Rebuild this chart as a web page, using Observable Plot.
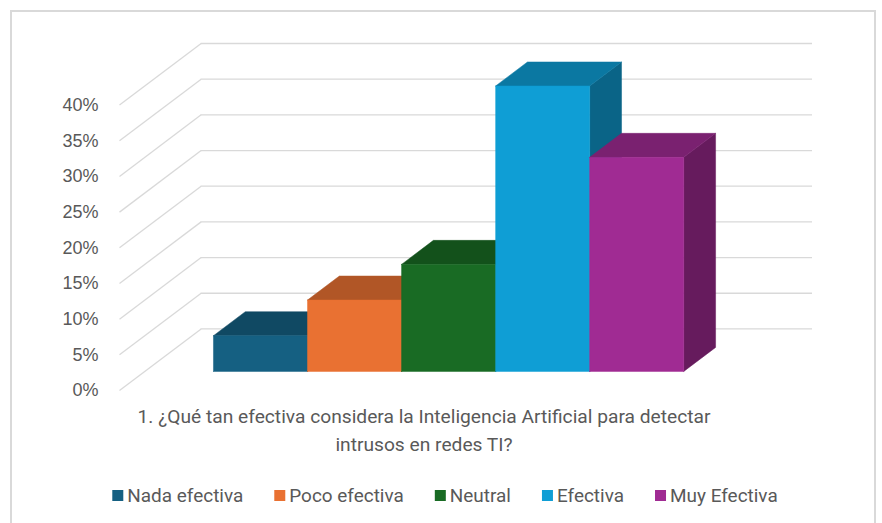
<!DOCTYPE html>
<html>
<head>
<meta charset="utf-8">
<script src="https://cdn.jsdelivr.net/npm/d3@7"></script>
<script src="https://cdn.jsdelivr.net/npm/@observablehq/plot@0.6"></script>
<style>
  html, body { margin: 0; padding: 0; background: #fff; }
  #frame { position: absolute; left: 10px; top: 10px; width: 866px; height: 530px; border: 2px solid #d9d9d9; border-bottom: none; box-sizing: border-box; }
  #chart { position: absolute; left: 0; top: 0; }
  #below { position: absolute; left: 0; top: 400px; }
</style>
</head>
<body>
<div id="frame"></div>
<div id="chart"></div>
<div id="below"></div>
<script>
// ---- data ----
const categories = ["Nada efectiva", "Poco efectiva", "Neutral", "Efectiva", "Muy Efectiva"];
const values = [5, 10, 15, 40, 30];
const colors = ["#156082", "#E97132", "#196B24", "#0F9ED5", "#A02B93"];
const yTicks = [0, 5, 10, 15, 20, 25, 30, 35, 40];
const titleLines = [
  "1. ¿Qué tan efectiva considera la Inteligencia Artificial para detectar",
  "intrusos en redes TI?"
];

// ---- oblique 3-D layout (in data units) ----
const FLOOR = 6.5;   // floor width in bar-widths
const GAP = 0.73;    // gap before first bar, in bar-widths
const DX = 0.868;    // full depth, x component (bar-widths)
const DY = 8.63;     // full depth, y component (percent units)
const D0 = 0.31, D1 = 0.70; // bar front/back depth fractions

function shade(c, k) {
  const r = d3.rgb(c);
  return d3.rgb(r.r * k, r.g * k, r.b * k).formatHex();
}
const proj = (u, v, d) => ({x: u + d * DX, y: v + d * DY});

const faces = [];
categories.forEach((cat, i) => {
  const v = values[i], u0 = GAP + i, u1 = u0 + 1;
  const poly = (name, fill, pts) => {
    pts.concat([pts[0]]).forEach(p => faces.push({key: cat + "-" + name, fill, ...p}));
  };
  poly("side", shade(colors[i], 0.635), [proj(u1, 0, D0), proj(u1, 0, D1), proj(u1, v, D1), proj(u1, v, D0)]);
  poly("top", shade(colors[i], 0.76), [proj(u0, v, D0), proj(u1, v, D0), proj(u1, v, D1), proj(u0, v, D1)]);
  poly("front", colors[i], [proj(u0, 0, D0), proj(u1, 0, D0), proj(u1, v, D0), proj(u0, v, D0)]);
});

const yMax = d3.max(yTicks);
const grid = "#d9d9d9";

const chart = Plot.plot({
  width: 882,
  height: 400,
  marginLeft: 119,
  marginRight: 70,
  marginTop: 43,
  marginBottom: 10,
  x: {domain: [0, FLOOR + DX], axis: null},
  y: {domain: [0, yMax + DY], axis: null},
  color: {type: "identity"},
  style: {fontFamily: "'Liberation Sans', Arial, sans-serif", background: "transparent"},
  marks: [
    Plot.ruleY(yTicks, {y: d => d + DY, x1: DX, x2: FLOOR + DX, stroke: grid, strokeWidth: 1.3}),
    Plot.link(yTicks, {x1: 0, y1: d => d, x2: DX, y2: d => d + DY, stroke: grid, strokeWidth: 1.3}),
    Plot.line(faces, {x: "x", y: "y", z: "key", fill: "fill", stroke: "fill", strokeWidth: 0.5}),
    Plot.axisY(yTicks, {tickSize: 0, tickPadding: 21, tickFormat: d => d + "%", fontSize: 18, fill: "#595959", label: null})
  ]
});
document.getElementById("chart").appendChild(chart);

// ---- title and legend below the plot ----
const textFamily = "Roboto, 'Open Sans', sans-serif";
const ctx = document.createElement("canvas").getContext("2d");
function fitSize(text, target) {
  ctx.font = `100px ${textFamily}`;
  return 100 * target / ctx.measureText(text).width;
}
const titleSize = fitSize(titleLines[0], 573);
const legendSize = fitSize(categories[0], 116);

const svg = d3.select("#below").append("svg").attr("width", 882).attr("height", 123)
  .style("font-family", textFamily);
const titleCenter = 424;
svg.selectAll("text.title").data(titleLines).join("text")
  .attr("class", "title")
  .attr("x", titleCenter)
  .attr("y", (d, i) => 22.5 + i * 28.5)
  .attr("text-anchor", "middle")
  .attr("font-size", titleSize)
  .attr("fill", "#595959")
  .text(d => d);

const lg = svg.append("g");
let x = 0;
categories.forEach((cat, i) => {
  lg.append("rect").attr("x", x).attr("y", 90).attr("width", 11).attr("height", 11).attr("fill", colors[i]);
  const t = lg.append("text").attr("x", x + 15).attr("y", 102)
    .attr("font-size", legendSize).attr("fill", "#595959").text(cat);
  x += 15 + t.node().getComputedTextLength() + 31;
});
const total = x - 31;
lg.attr("transform", `translate(${445 - total / 2},0)`);
</script>
</body>
</html>
